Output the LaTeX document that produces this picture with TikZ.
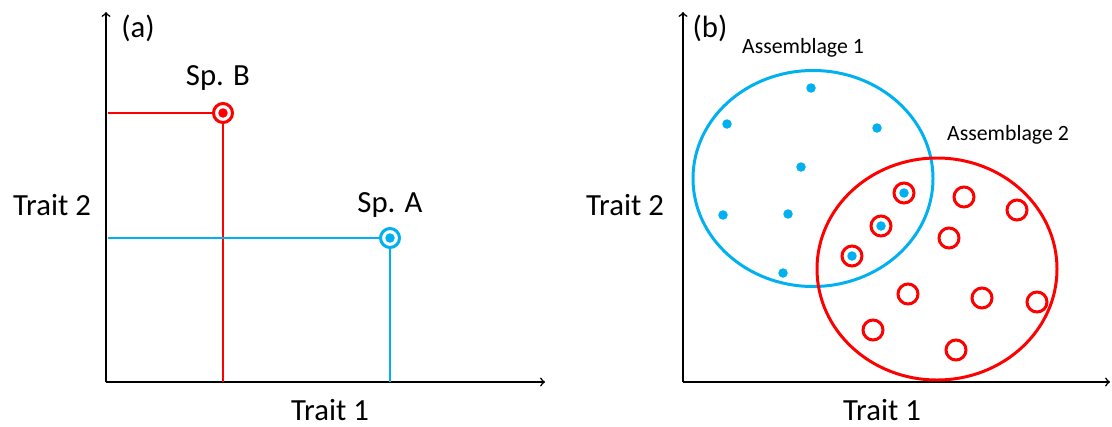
\documentclass[tikz,border=0pt]{standalone}
\usepackage{fontspec}
\setmainfont{Carlito}
\usepackage{tikz}
\usetikzlibrary{shapes,fit}

\definecolor{spblue}{RGB}{0,176,240}
\definecolor{spred}{RGB}{255,0,0}

\tikzset{
    axis/.style={line width=0.9pt, ->},
    big/.style={font=\fontsize{17.5}{20}\selectfont},
    small/.style={font=\fontsize{12.4}{14}\selectfont},
    ring/.style={circle, draw, line width=1.7pt, minimum size=0.40cm, inner sep=0pt},
    dot/.style={circle, fill, minimum size=0.19cm, inner sep=0pt},
}

\begin{document}
\begin{tikzpicture}[x=0.02cm, y=-0.02cm]
    \useasboundingbox (0,0) rectangle (1112,426);

    % Axis (a)
    \coordinate (oa) at (106,382);
    \coordinate (ya) at (106,12);
    \coordinate (xa) at (545,382);
    \draw[axis] (oa) -- (ya);
    \draw[axis] (oa) -- (xa);
    \node[big] (la) at (138,28) {(a)};
    \node[big] (t2a) at (52,205) {Trait 2};
    \node[big] (t1a) at (330,410) {Trait 1};

    % Species
    \node[ring, spred, minimum size=0.38cm] (spB) at (223,113) {};
    \node[dot, spred] (spBc) at (spB) {};
    \node[big] (lB) at (218,78) {Sp. B};
    \coordinate (bh) at (108,113);
    \coordinate (bv) at (223,382);
    \draw[spred, line width=1.3pt] (bh) -- (spB.west);
    \draw[spred, line width=1.3pt] (spB.south) -- (bv);

    \node[ring, spblue, minimum size=0.38cm] (spA) at (390,238) {};
    \node[dot, spblue] (spAc) at (spA) {};
    \node[big] (lA) at (390,205) {Sp. A};
    \coordinate (ah) at (108,238);
    \coordinate (av) at (390,382);
    \draw[spblue, line width=1.3pt] (ah) -- (spA.west);
    \draw[spblue, line width=1.3pt] (spA.south) -- (av);

    % Axis (b)
    \coordinate (ob) at (683,382);
    \coordinate (yb) at (683,12);
    \coordinate (xb) at (1110,382);
    \draw[axis] (ob) -- (yb);
    \draw[axis] (ob) -- (xb);
    \node[big] (lb) at (710,28) {(b)};
    \node[big] (t2b) at (625,205) {Trait 2};
    \node[big] (t1b) at (882,410) {Trait 1};

    % Assemblages
    \draw[spblue, line width=1.7pt] (813,178.5) ellipse [x radius=120, y radius=108];
    \draw[spred, line width=1.7pt] (937,269) ellipse [x radius=120, y radius=111];
    \node[small] (as1) at (803,48) {Assemblage 1};
    \node[small] (as2) at (1008,135) {Assemblage 2};

    \foreach \x/\y [count=\i] in {811/88, 727/124, 877/128, 801/167, 723/215, 788/214, 783/273}
        \node[dot, spblue] (b\i) at (\x,\y) {};
    \foreach \x/\y [count=\i] in {904/193, 881/226, 852/256}
    {
        \node[ring, spred] (s\i) at (\x,\y) {};
        \node[dot, spblue] (sc\i) at (s\i) {};
    }
    \foreach \x/\y [count=\i] in {964/197, 1017/210, 949/238, 908/294, 982/298, 1037/302, 873/330, 956/350}
        \node[ring, spred] (r\i) at (\x,\y) {};
\end{tikzpicture}
\end{document}
